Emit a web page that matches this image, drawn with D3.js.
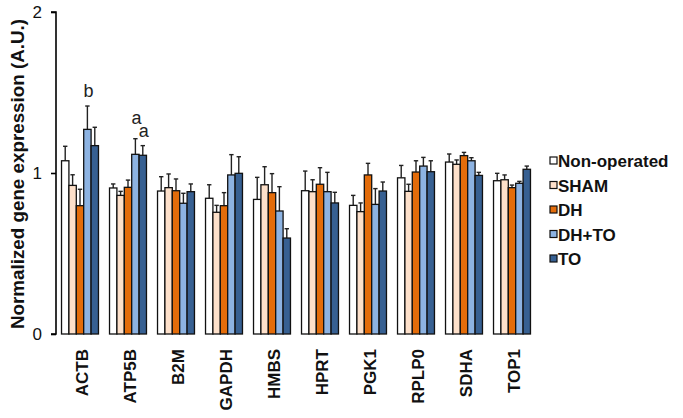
<!DOCTYPE html>
<html>
<head>
<meta charset="utf-8">
<script src="https://cdn.jsdelivr.net/npm/d3@7"></script>
<style>
  html, body { margin: 0; padding: 0; background: #fff; }
  svg { display: block; font-family: "Liberation Sans", Arial, sans-serif; }
</style>
</head>
<body>
<svg id="chart" width="683" height="418"></svg>
<script>
const genes = ["ACTB", "ATP5B", "B2M", "GAPDH", "HMBS", "HPRT", "PGK1", "RPLP0", "SDHA", "TOP1"];
const seriesNames = ["Non-operated", "SHAM", "DH", "DH+TO", "TO"];
const seriesColors = ["#ffffff", "#fde0ca", "#e36c0a", "#8db3e2", "#376092"];

const nonOperated = [1.076, 0.907, 0.888, 0.843, 0.836, 0.890, 0.799, 0.970, 1.068, 0.952];
const sham        = [0.923, 0.861, 0.909, 0.756, 0.927, 0.884, 0.760, 0.886, 1.054, 0.958];
const dh          = [0.797, 0.911, 0.890, 0.797, 0.878, 0.930, 0.988, 1.006, 1.108, 0.909];
const dhTo        = [1.271, 1.116, 0.812, 0.988, 0.764, 0.884, 0.805, 1.043, 1.076, 0.936];
const to          = [1.170, 1.110, 0.884, 0.998, 0.596, 0.814, 0.888, 1.008, 0.985, 1.023];

const errNonOperated = [0.090, 0.025, 0.089, 0.084, 0.137, 0.122, 0.062, 0.077, 0.050, 0.046];
const errSham        = [0.066, 0.025, 0.085, 0.043, 0.112, 0.074, 0.054, 0.044, 0.027, 0.030];
const errDh          = [0.102, 0.045, 0.073, 0.081, 0.118, 0.103, 0.072, 0.070, 0.020, 0.016];
const errDhTo        = [0.145, 0.097, 0.062, 0.126, 0.151, 0.120, 0.098, 0.054, 0.019, 0.012];
const errTo          = [0.114, 0.060, 0.048, 0.103, 0.058, 0.066, 0.056, 0.068, 0.019, 0.020];

const yTicks = [0, 1, 2];
const yTitle = "Normalized gene expression (A.U.)";

// significance letters: gene, series index, label
const sigGenes = ["ACTB", "ATP5B", "ATP5B"];
const sigSeries = [3, 3, 4];
const sigLabels = ["b", "a", "a"];

const means = [nonOperated, sham, dh, dhTo, to];
const errs = [errNonOperated, errSham, errDh, errDhTo, errTo];

const svg = d3.select("#chart");

const y = d3.scaleLinear().domain([0, 2]).range([334, 12]);
const x = d3.scaleBand().domain(genes).range([56, 536]).paddingInner(0.23).paddingOuter(0.115);
const xs = d3.scaleBand().domain(d3.range(seriesNames.length)).range([0, x.bandwidth()]);

const data = [];
genes.forEach((g, gi) => {
  seriesNames.forEach((s, si) => {
    data.push({ gene: g, si, v: means[si][gi], e: errs[si][gi] });
  });
});

// error bars
const eg = svg.append("g");
data.forEach(d => {
  const cx = x(d.gene) + xs(d.si) + xs.bandwidth() / 2;
  eg.append("line").attr("x1", cx).attr("x2", cx)
    .attr("y1", y(d.v)).attr("y2", y(d.v + d.e))
    .attr("stroke", "#222").attr("stroke-width", 1.4);
  eg.append("line").attr("x1", cx - 2.2).attr("x2", cx + 2.2)
    .attr("y1", y(d.v + d.e)).attr("y2", y(d.v + d.e))
    .attr("stroke", "#222").attr("stroke-width", 1.4);
});

// bars
svg.append("g").selectAll("rect").data(data).join("rect")
  .attr("x", d => x(d.gene) + xs(d.si))
  .attr("width", xs.bandwidth())
  .attr("y", d => y(d.v))
  .attr("height", d => y(0) - y(d.v))
  .attr("fill", d => seriesColors[d.si])
  .attr("stroke", "#111")
  .attr("stroke-width", 1.3);

// y axis
const yAxis = svg.append("g").attr("transform", "translate(56,0)")
  .call(d3.axisLeft(y).tickValues(yTicks).tickFormat(d3.format("d")).tickSize(5).tickPadding(9));
yAxis.select(".domain").attr("stroke", "#000").attr("stroke-width", 1.6)
  .attr("d", `M-5,${y(2)}H0V${y(0)}H-5`);
yAxis.selectAll(".tick line").attr("stroke", "#000").attr("stroke-width", 1.6);
yAxis.selectAll(".tick text").attr("font-size", 17).attr("fill", "#111")
  .attr("font-family", "Liberation Sans, Arial, sans-serif");

// y title
svg.append("text")
  .attr("transform", `translate(24,${(y(0) + y(2)) / 2 + 1}) rotate(-90)`)
  .attr("text-anchor", "middle")
  .attr("font-size", 18.8).attr("font-weight", "bold").attr("fill", "#111")
  .text(yTitle);

// x labels
svg.append("g").selectAll("text").data(genes).join("text")
  .attr("transform", g => `translate(${x(g) + x.bandwidth() / 2 + 8},349) rotate(-90)`)
  .attr("text-anchor", "end")
  .attr("font-size", 17).attr("font-weight", "bold").attr("fill", "#111")
  .text(g => g);

// significance letters, stacked to avoid overlap within a gene
const placed = [];
for (let i = sigLabels.length - 1; i >= 0; i--) {
  const gi = genes.indexOf(sigGenes[i]);
  const si = sigSeries[i];
  const cx = x(sigGenes[i]) + xs(si) + xs.bandwidth() / 2;
  let by = y(means[si][gi] + errs[si][gi]) - 9;
  placed.forEach(p => {
    if (p.gene === sigGenes[i] && Math.abs(p.cx - cx) < 10 && by > p.by - 13) by = p.by - 13;
  });
  placed.push({ gene: sigGenes[i], cx, by });
  svg.append("text").attr("x", cx + 1).attr("y", by)
    .attr("text-anchor", "middle").attr("font-size", 18).attr("fill", "#222")
    .text(sigLabels[i]);
}

// legend
const lg = svg.append("g").attr("transform", "translate(550,161)");
seriesNames.forEach((s, i) => {
  const row = lg.append("g").attr("transform", `translate(0,${i * 24.5})`);
  row.append("rect").attr("x", 0).attr("y", -4).attr("width", 7).attr("height", 7)
    .attr("fill", seriesColors[i]).attr("stroke", "#111").attr("stroke-width", 1.2);
  row.append("text").attr("x", 8).attr("y", 0).attr("dy", "0.36em")
    .attr("font-size", 17).attr("font-weight", "bold").attr("fill", "#111")
    .text(s);
});
</script>
</body>
</html>
